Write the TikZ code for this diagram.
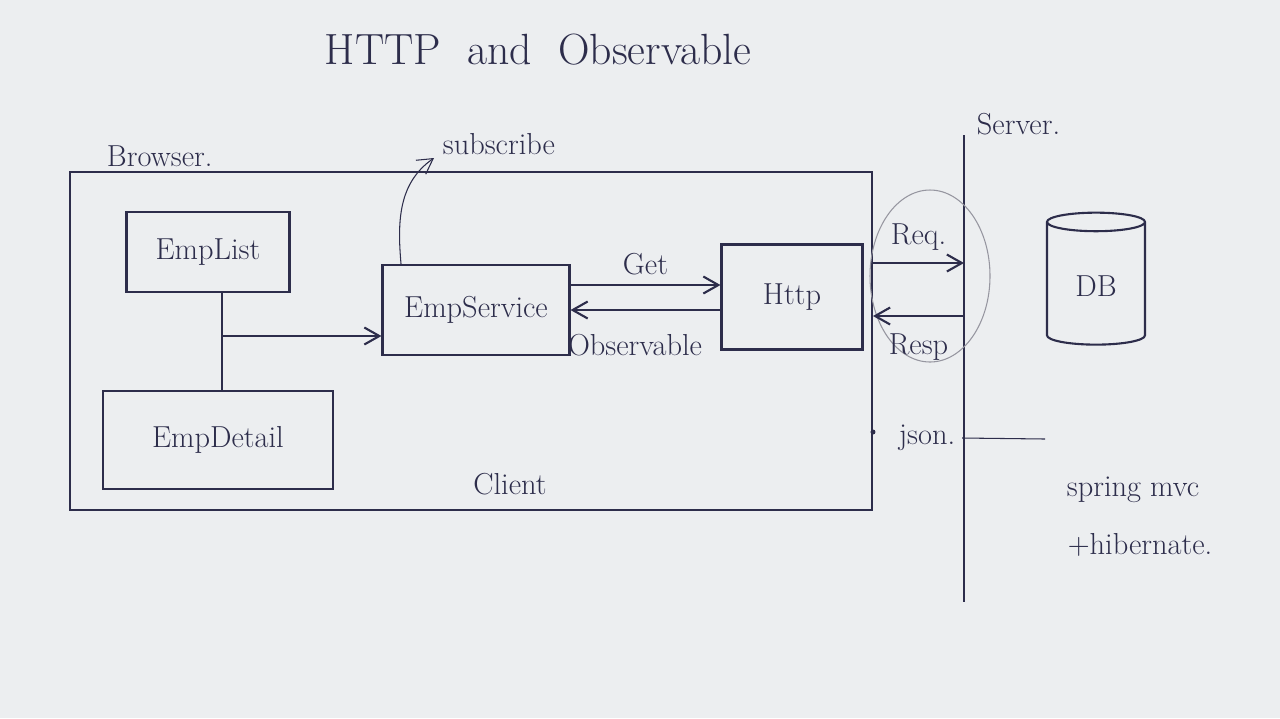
\documentclass[tikz,border=0pt]{standalone}
\usepackage{tikz}
\usetikzlibrary{arrows.meta,shapes.geometric}

\definecolor{ink}{RGB}{45,45,75}
\definecolor{paper}{RGB}{236,238,240}
\definecolor{pencil}{RGB}{150,150,160}

\begin{document}
\begin{tikzpicture}[x = 0.02cm, y = -0.02cm, line width = 1.2pt, ink,
    compbox/.style = {draw = ink, minimum width = #1},
    arr/.style = {-{Straight Barb[length = 3mm, width = 3.4mm]}},
    lbl/.style = {font = \LARGE, text = ink}]

    \useasboundingbox [fill = paper] (0, 0) rectangle (1280, 718);

    % title
    \node [font = \Huge, text = ink] (title) at (538, 50) {HTTP \ and \ Observable};

    % browser side
    \node [draw = ink, minimum width = 16.04cm, minimum height = 6.76cm] (browser) at (471, 341) {};
    \node [lbl, anchor = south west] (browserlbl) at (100, 174) {Browser.};
    \node [lbl] (client) at (510, 484) {Client};

    \node [lbl, compbox = 3.26cm, minimum height = 1.6cm] (emplist) at (208, 252) {EmpList};
    \node [lbl, compbox = 4.6cm, minimum height = 1.96cm] (empdetail) at (218, 440) {EmpDetail};
    \node [lbl, compbox = 3.74cm, minimum height = 1.8cm] (empservice) at (476, 310) {EmpService};
    \node [lbl, compbox = 2.82cm, minimum height = 2.1cm] (http) at (792, 297) {Http};

    % components to service
    \coordinate (junction) at (222, 336);
    \draw (emplist.south -| junction) -- (empdetail.north -| junction);
    \draw [arr] (junction) -- (junction -| empservice.west);

    % get / observable
    \coordinate (getstart) at ([yshift = 5mm] empservice.east);
    \draw [arr] (getstart) -- (getstart -| http.west) node [lbl, midway, above = 2pt] {Get};
    \coordinate (obsstart) at ([yshift = -2.6mm] http.west);
    \draw [arr] (obsstart) -- (obsstart -| empservice.east)
        node [lbl, pos = 0.57, below = 10pt] {Observable};

    % subscribe
    \coordinate (subend) at (434, 158);
    \draw [arr, line width = 0.6pt] ([xshift = -1.5cm] empservice.north) to [out = 95, in = 215] (subend);
    \node [lbl, anchor = south west] (subscribe) at (436, 162) {subscribe};

    % server side
    \coordinate (servertop) at (964, 135);
    \coordinate (serverbot) at (964, 602);
    \draw (servertop) -- (serverbot);
    \node [lbl, anchor = south west] (server) at (970, 142) {Server.};

    \draw [pencil, line width = 0.6pt] (930, 276) ellipse [x radius = 60, y radius = 86];
    \coordinate (reqstart) at (browser.east |- 0, 263);
    \draw [arr] (reqstart) -- (reqstart -| servertop) node [lbl, midway, above = 3pt] {Req.};
    \coordinate (respstart) at (servertop |- 0, 316);
    \draw [arr] (respstart) -- (respstart -| browser.east) node [lbl, midway, below = 6pt] {Resp};

    \fill (browser.east |- 0, 432) circle [radius = 2.5];
    \node [lbl, anchor = east] (json) at (962, 438) {json.};
    \coordinate (jsonend) at (1045, 439);
    \draw [line width = 0.6pt] (json.east) -- (jsonend);

    \node [lbl, draw = ink, cylinder, shape border rotate = 90, aspect = 0.35,
        minimum width = 1.96cm, minimum height = 2.64cm] (db) at (1096, 286) {DB};

    \node [lbl] (springmvc) at (1133, 490) {spring mvc};
    \node [lbl] (hibernate) at (1140, 545) {+hibernate.};

\end{tikzpicture}
\end{document}
